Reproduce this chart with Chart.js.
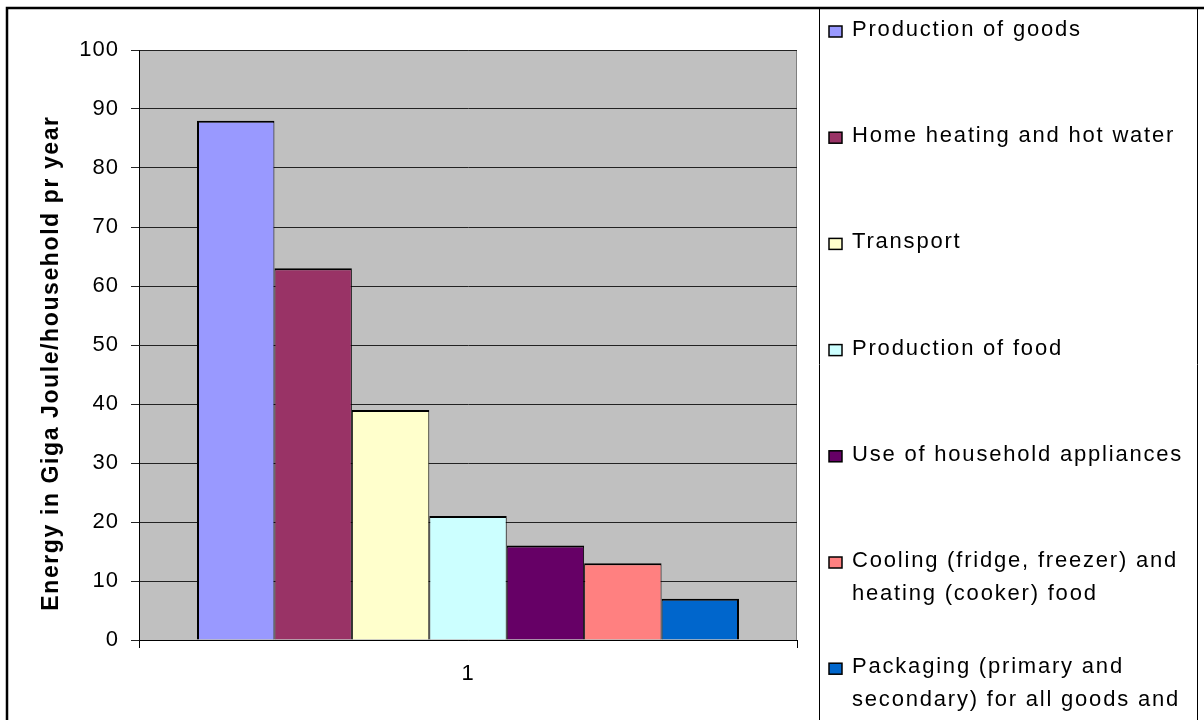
<!DOCTYPE html>
<html>
<head>
<meta charset="utf-8">
<title>Household energy use</title>
<script src="https://cdn.jsdelivr.net/npm/chart.js@4/dist/chart.umd.min.js"></script>
<style>
    body{ margin: 0; background: #ffffff; }
    #wrap{ width: 1204px; height: 720px; }
</style>
</head>
<body>
<div id="wrap"><canvas id="energy-chart" width="1204" height="720"></canvas></div>
<script>
//CHART DATA
let categories = ['1'];
let seriesNames = [
    ['Production of goods'],
    ['Home heating and hot water'],
    ['Transport'],
    ['Production of food'],
    ['Use of household appliances'],
    ['Cooling (fridge, freezer) and', 'heating (cooker) food'],
    ['Packaging (primary and', 'secondary) for all goods and', 'food']
];
let seriesValues = [88, 63, 39, 21, 16, 13, 7];
let seriesColors = ['#9999ff', '#993366', '#ffffcc', '#ccffff', '#660066', '#ff8080', '#0066cc'];
let yTicks = [0, 10, 20, 30, 40, 50, 60, 70, 80, 90, 100];
let yTitle = 'Energy in Giga Joule/household pr year';

const FONT = "'Liberation Sans', Arial, sans-serif";

function buildDatasets(){
    let last = seriesValues.length - 1;
    return seriesValues.map((value, i) => {
        return {
            label: seriesNames[i].join(' '),
            data: [value],
            backgroundColor: seriesColors[i],
            borderColor: '#000000',
            //neighbouring bars share one edge, so only the outer ones get a full border
            borderWidth: {top: 2, bottom: 0, left: i === 0 ? 2 : 1, right: i === last ? 2 : 1},
            borderSkipped: 'start',
            categoryPercentage: 0.8237,
            barPercentage: 1.0
        };
    });
}

//the text in this chart is set a little wider than the plain font
let wideText = {
    id: 'wideText',
    beforeLayout(chart){
        chart.ctx.letterSpacing = '1px';
    },
    beforeDraw(chart){
        chart.ctx.letterSpacing = '1px';
    }
};

//grey plot area with its frame, drawn before the bars
let plotBackground = {
    id: 'plotBackground',
    beforeDraw(chart){
        let {ctx, chartArea} = chart;
        ctx.save();
        ctx.fillStyle = '#c0c0c0';
        ctx.fillRect(chartArea.left, chartArea.top, chartArea.width, chartArea.height);
        ctx.strokeStyle = '#808080';
        ctx.lineWidth = 1;
        ctx.strokeRect(chartArea.left + 0.5, chartArea.top + 0.5, chartArea.width - 1, chartArea.height);
        ctx.restore();
    }
};

//outer frame, axis title and the boxed legend on the right
let frameAndLegend = {
    id: 'frameAndLegend',
    afterDraw(chart){
        let ctx = chart.ctx;
        ctx.save();

        ctx.strokeStyle = '#000000';
        ctx.lineWidth = 2.5;
        ctx.beginPath();
        ctx.moveTo(7, 720);
        ctx.lineTo(7, 8);
        ctx.lineTo(1204, 8);
        ctx.stroke();

        ctx.lineWidth = 1;
        ctx.beginPath();
        ctx.moveTo(819.5, 9);
        ctx.lineTo(819.5, 720);
        ctx.moveTo(1197.5, 9);
        ctx.lineTo(1197.5, 720);
        ctx.stroke();

        //y axis title
        ctx.save();
        ctx.translate(52, 363);
        ctx.rotate(-Math.PI / 2);
        ctx.font = 'bold 23px ' + FONT;
        ctx.letterSpacing = '1.6px';
        ctx.fillStyle = '#000000';
        ctx.textAlign = 'center';
        ctx.textBaseline = 'middle';
        ctx.fillText(yTitle, 0, 0);
        ctx.restore();

        //legend entries
        ctx.font = '22px ' + FONT;
        ctx.letterSpacing = '1.8px';
        ctx.textAlign = 'left';
        ctx.textBaseline = 'alphabetic';
        chart.data.datasets.forEach((ds, i) => {
            let baseline = 36 + i * 106.2;
            ctx.fillStyle = ds.backgroundColor;
            ctx.fillRect(829, baseline - 10, 13, 11);
            ctx.strokeStyle = '#000000';
            ctx.lineWidth = 1.5;
            ctx.strokeRect(829, baseline - 10, 13, 11);
            ctx.fillStyle = '#000000';
            seriesNames[i].forEach((line, n) => {
                ctx.fillText(line, 852, baseline + n * 32.8);
            });
        });

        ctx.restore();
    }
};

let config = {
    type: 'bar',
    data: {
        labels: categories,
        datasets: buildDatasets()
    },
    options: {
        responsive: false,
        animation: false,
        layout: {
            padding: {left: 0, top: 50, right: 407, bottom: 0}
        },
        scales: {
            x: {
                grid: {
                    display: true,
                    drawOnChartArea: false,
                    drawTicks: true,
                    tickLength: 8,
                    color: '#000000'
                },
                border: {color: '#000000', width: 1},
                ticks: {
                    color: '#000000',
                    padding: 13,
                    font: {family: FONT, size: 22}
                },
                afterFit(scale){
                    scale.height = 80;
                }
            },
            y: {
                min: 0,
                max: 100,
                afterBuildTicks(scale){
                    scale.ticks = yTicks.map(v => ({value: v}));
                },
                grid: {
                    color: '#222222',
                    lineWidth: 1,
                    tickLength: 8
                },
                border: {color: '#000000', width: 1},
                ticks: {
                    color: '#000000',
                    padding: 12,
                    font: {family: FONT, size: 22}
                },
                afterFit(scale){
                    scale.width = 139;
                }
            }
        },
        plugins: {
            legend: {display: false},
            tooltip: {enabled: false}
        }
    },
    plugins: [wideText, plotBackground, frameAndLegend]
};

new Chart(document.querySelector('#energy-chart'), config);
</script>
</body>
</html>
